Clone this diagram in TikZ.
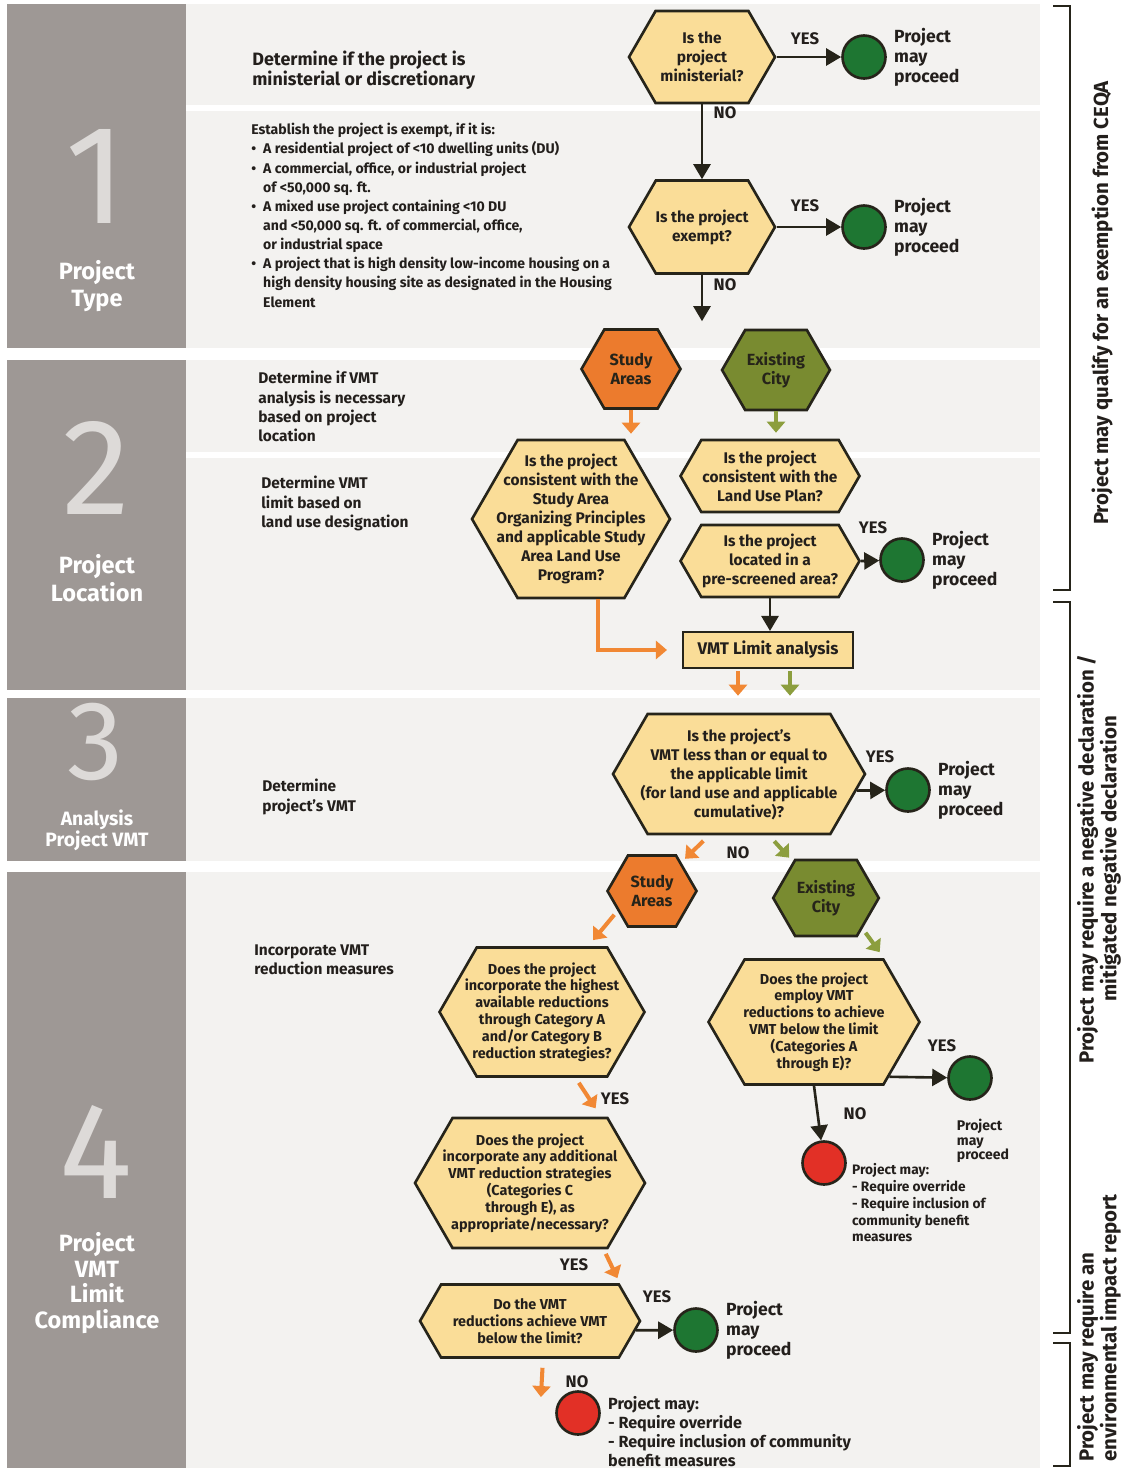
\documentclass[tikz,border=0pt]{standalone}
\usepackage{fontspec}
\setmainfont{Fira Sans}
\definecolor{BarGrey}{RGB}{158,152,149}
\definecolor{NumGrey}{RGB}{221,218,216}
\definecolor{PanelGrey}{RGB}{243,242,240}
\definecolor{HexFill}{RGB}{250,221,152}
\definecolor{HexLine}{RGB}{38,36,26}
\definecolor{InkDark}{RGB}{35,31,28}
\definecolor{StudyOrange}{RGB}{236,123,45}
\definecolor{ArrowOrange}{RGB}{241,136,52}
\definecolor{CityOlive}{RGB}{121,139,48}
\definecolor{ArrowOlive}{RGB}{140,158,62}
\definecolor{GoGreen}{RGB}{30,118,50}
\definecolor{HaltRed}{RGB}{226,48,38}
\usetikzlibrary{arrows.meta, positioning, shapes.symbols}

\begin{document}
\begin{tikzpicture}[x=0.02cm, y=-0.02cm, every node/.style={font=\bfseries, text=InkDark},
    bar/.style={fill=BarGrey},
    panel/.style={fill=PanelGrey},
    bignum/.style={font=\fontsize{80}{80}\selectfont, text=NumGrey, inner sep=0pt},
    barlabel/.style={font=\bfseries\fontsize{13.4}{15.8}\selectfont, text=white, align=center},
    quest/.style={shape=signal, signal to=west and east, signal pointer angle=120, draw=HexLine, line width=1.5pt, fill=HexFill, inner sep=1pt},
    qtext/.style={align=center, inner sep=0pt, font=\bfseries\fontsize{8.8}{10.8}\selectfont},
    smalltext/.style={qtext, font=\bfseries\fontsize{8.2}{9.6}\selectfont},
    area/.style={quest, align=center, text=HexLine, font=\bfseries\fontsize{9.2}{10.8}\selectfont},
    limitbox/.style={draw=HexLine, line width=1.2pt, fill=HexFill, font=\bfseries\fontsize{9.6}{10}\selectfont},
    proceed/.style={circle, draw=HexLine, line width=1.5pt, fill=GoGreen, minimum size=0.86cm, inner sep=0pt},
    halt/.style={proceed, fill=HaltRed},
    answer/.style={font=\bfseries\fontsize{9.5}{10}\selectfont},
    outcome/.style={align=left, inner sep=0pt, font=\bfseries\fontsize{10}{11.3}\selectfont},
    note/.style={align=left, inner sep=0pt, font=\bfseries\fontsize{7.8}{9.6}\selectfont},
    task/.style={anchor=north west, align=left, inner sep=0pt, font=\bfseries\fontsize{8.8}{11}\selectfont},
    flow/.style={draw=HexLine, line width=1.5pt, -{Triangle[length=0.3cm, width=0.34cm]}},
    oflow/.style={draw=ArrowOrange, line width=2.3pt, -{Triangle[length=0.22cm, width=0.36cm]}},
    gflow/.style={oflow, draw=ArrowOlive},
    brk/.style={draw=HexLine, line width=1.6pt},
    side/.style={rotate=90, inner sep=0pt, font=\bfseries\fontsize{11.6}{9.9}\selectfont}]

    \fill[white] (0,0) rectangle (1125,1468);
    \useasboundingbox (0,0) rectangle (1125,1468);
    \fill[panel] (186,4) rectangle (1040,105);
    \fill[panel] (186,111) rectangle (1040,348);
    \fill[panel] (186,360) rectangle (1040,452);
    \fill[panel] (186,458) rectangle (1040,690);
    \fill[panel] (186,698) rectangle (1040,861);
    \fill[panel] (186,872) rectangle (1040,1468);
    \fill[bar] (7,4) rectangle (186,348);
    \fill[bar] (7,360) rectangle (186,690);
    \fill[bar] (7,698) rectangle (186,861);
    \fill[bar] (7,872) rectangle (186,1468);

    \node[bignum] (num1) at (96,176) {1};
    \node[barlabel] (typelbl) at (97,286) {Project\\Type};
    \node[bignum, font=\fontsize{78}{78}\selectfont] (num2) at (96,468) {2};
    \node[barlabel] (loclbl) at (97,578) {Project\\Location};
    \node[bignum, font=\fontsize{64}{64}\selectfont] (num3) at (96,742) {3};
    \node[barlabel, font=\bfseries\fontsize{11}{12}\selectfont] (anlbl) at (97,830) {Analysis\\Project VMT};
    \node[bignum, font=\fontsize{78}{78}\selectfont] (num4) at (96,1152) {4};
    \node[barlabel, font=\bfseries\fontsize{13.4}{14.7}\selectfont] (complbl) at (97,1283) {Project\\VMT\\Limit\\Compliance};

    \node[task, font=\bfseries\fontsize{10.2}{11.3}\selectfont] (task1) at (252,51) {Determine if the project is\\ministerial or discretionary};
    \node[task, font=\bfseries\fontsize{8}{10.9}\selectfont] (exemptlist) at (251,123) {Establish the project is exempt, if it is:\\
        \textbullet\enspace A residential project of <10 dwelling units (DU)\\
        \textbullet\enspace A commercial, office, or industrial project\\
        \phantom{\textbullet\enspace}of <50,000 sq. ft.\\
        \textbullet\enspace A mixed use project containing <10 DU\\
        \phantom{\textbullet\enspace}and <50,000 sq. ft. of commercial, office,\\
        \phantom{\textbullet\enspace}or industrial space\\
        \textbullet\enspace A project that is high density low-income housing on a\\
        \phantom{\textbullet\enspace}high density housing site as designated in the Housing\\
        \phantom{\textbullet\enspace}Element};
    \node[task] (task2) at (258,371) {Determine if VMT\\analysis is necessary\\based on project\\location};
    \node[task] (task3) at (261,476) {Determine VMT\\limit based on\\land use designation};
    \node[task] (task4) at (262,779) {Determine\\project's VMT};
    \node[task] (task5) at (254,944) {Incorporate VMT\\reduction measures};

    \node[quest, minimum width=2.92cm, minimum height=1.84cm] (minis) at (702,57) {};
    \node[qtext] (ministxt) at (minis) {Is the\\project\\ministerial?};
    \node[proceed] (ok1) at (864,57) {};
    \node[outcome, right=0.14cm of ok1] (ok1txt) {Project\\may\\proceed};
    \draw[flow] (minis.east) -- (ok1);
    \node[answer] (yes1) at (805,39) {YES};
    \node[quest, minimum width=2.92cm, minimum height=1.86cm] (exempt) at (702,227) {};
    \node[qtext] (exempttxt) at (exempt) {Is the project\\exempt?};
    \draw[flow] (minis.south) -- (exempt.north);
    \node[answer] (no1) at (725,113) {NO};
    \node[proceed] (ok2) at (864,227) {};
    \node[outcome, right=0.14cm of ok2] (ok2txt) {Project\\may\\proceed};
    \draw[flow] (exempt.east) -- (ok2);
    \node[answer] (yes2) at (805,206) {YES};
    \node[answer] (no2) at (725,285) {NO};

    \node[area, fill=StudyOrange, minimum width=1.98cm, minimum height=1.58cm] (studyA) at (631,369) {Study\\Areas};
    \node[area, fill=CityOlive, minimum width=1.98cm, minimum height=1.6cm] (cityA) at (776,370) {Existing\\City};
    \draw[flow, shorten >=0.14cm] (exempt.south) -- (exempt.south |- studyA.north);
    \node[quest, minimum width=3.96cm, minimum height=3.16cm] (studyQ) at (571,519) {};
    \node[qtext] (studyQtxt) at (studyQ) {Is the project\\consistent with the\\Study Area\\Organizing Principles\\and applicable Study\\Area Land Use\\Program?};
    \node[quest, minimum width=3.58cm, minimum height=1.44cm] (planQ) at (770,476) {};
    \node[qtext] (planQtxt) at (planQ) {Is the project\\consistent with the\\Land Use Plan?};
    \node[quest, minimum width=3.58cm, minimum height=1.44cm] (screenQ) at (770,561) {};
    \node[qtext] (screenQtxt) at (screenQ) {Is the project\\located in a\\pre-screened area?};
    \draw[oflow, shorten >=0.1cm] (studyA.south) -- (studyA.south |- studyQ.north);
    \draw[gflow, shorten >=0.12cm] (cityA.south) -- (cityA.south |- planQ.north);
    \node[proceed] (ok3) at (902,560) {};
    \node[outcome, right=0.14cm of ok3] (ok3txt) {Project\\may\\proceed};
    \draw[flow] (screenQ.east) -- (ok3);
    \node[answer] (yes3) at (873,528) {YES};
    \node[limitbox, minimum width=3.4cm, minimum height=0.72cm] (vmtbox) at (768,650) {VMT Limit analysis};
    \draw[flow] (screenQ.south) -- (screenQ.south |- vmtbox.north);
    \draw[oflow, shorten >=0.3cm] ([xshift=0.54cm]studyQ.south) |- (vmtbox.west);

    \node[quest, minimum width=5.04cm, minimum height=2.4cm] (limitQ) at (739,774) {};
    \node[qtext] (limitQtxt) at (limitQ) {Is the project's\\VMT less than or equal to\\the applicable limit\\(for land use and applicable\\cumulative)?};
    \draw[oflow, shorten <=0.04cm, shorten >=0.34cm] ([xshift=-0.6cm]vmtbox.south) -- ([xshift=-0.6cm]vmtbox.south |- limitQ.north);
    \draw[gflow, shorten <=0.04cm, shorten >=0.34cm] ([xshift=0.44cm]vmtbox.south) -- ([xshift=0.44cm]vmtbox.south |- limitQ.north);
    \node[proceed] (ok4) at (908,790) {};
    \node[outcome, right=0.14cm of ok4] (ok4txt) {Project\\may\\proceed};
    \draw[flow] (limitQ.-8) -- (ok4);
    \node[answer] (yes4) at (880,757) {YES};

    \node[area, fill=StudyOrange, minimum width=1.78cm, minimum height=1.42cm] (studyB) at (652,891) {Study\\Areas};
    \node[area, fill=CityOlive, minimum width=1.88cm, minimum height=1.52cm] (cityB) at (826,898) {Existing\\City};
    \draw[oflow, shorten <=0.16cm, shorten >=0.1cm] (limitQ.-116) -- (studyB);
    \draw[gflow, shorten <=0.16cm, shorten >=0.1cm] (limitQ.-64) -- (cityB);
    \node[answer] (no3) at (738,853) {NO};

    \node[quest, minimum width=4.1cm, minimum height=2.58cm] (highQ) at (542,1012) {};
    \node[smalltext] (highQtxt) at (highQ) {Does the project\\incorporate the highest\\available reductions\\through Category A\\and/or Category B\\reduction strategies?};
    \node[quest, minimum width=4.22cm, minimum height=2.5cm] (employQ) at (814,1022) {};
    \node[smalltext] (employQtxt) at (employQ) {Does the project\\employ VMT\\reductions to achieve\\VMT below the limit\\(Categories A\\through E)?};
    \draw[oflow, shorten <=0.1cm, shorten >=0.16cm] (studyB.-150) -- (highQ.55);
    \draw[gflow, shorten <=0.1cm, shorten >=0.16cm] (cityB.-40) -- (employQ.42);

    \node[proceed] (ok5) at (970,1078) {};
    \node[outcome, font=\bfseries\fontsize{8}{8.3}\selectfont, below=0.36cm of ok5, xshift=0.26cm] (ok5txt) {Project\\may\\proceed};
    \draw[flow] (employQ.-36) -- (ok5);
    \node[answer] (yes5) at (942,1046) {YES};
    \node[halt] (halt1) at (824,1163) {};
    \draw[flow] (employQ.south) -- (halt1);
    \node[answer] (no4) at (855,1114) {NO};
    \node[note, anchor=north west] (halt1txt) at ([xshift=0.1cm]halt1.east) {Project may:\\- Require override\\- Require inclusion of\\community benefit\\measures};

    \node[quest, minimum width=4.6cm, minimum height=2.6cm] (addQ) at (530,1183) {};
    \node[smalltext] (addQtxt) at (addQ) {Does the project\\incorporate any additional\\VMT reduction strategies\\(Categories C\\through E), as\\appropriate/necessary?};
    \draw[oflow, shorten <=0.12cm, shorten >=0.2cm] (highQ.-63) -- (addQ.43);
    \node[answer] (yes6) at (615,1099) {YES};
    \node[quest, minimum width=4.4cm, minimum height=1.46cm] (achieveQ) at (530,1321) {};
    \node[smalltext] (achieveQtxt) at (achieveQ) {Do the VMT\\reductions achieve VMT\\below the limit?};
    \draw[oflow, shorten <=0.1cm, shorten >=0.14cm] (addQ.-42) -- (achieveQ.22);
    \node[answer] (yes7) at (574,1265) {YES};
    \node[proceed] (ok6) at (696,1330) {};
    \node[outcome, right=0.14cm of ok6] (ok6txt) {Project\\may\\proceed};
    \draw[flow] (achieveQ.-5) -- (ok6);
    \node[answer] (yes8) at (657,1297) {YES};
    \node[halt] (halt2) at (578,1413) {};
    \draw[oflow, shorten <=0.18cm, shorten >=0.32cm] ([xshift=0.26cm]achieveQ.south) -- ([xshift=0.2cm]achieveQ.south |- halt2);
    \node[answer] (no5) at (577,1382) {NO};
    \node[note, anchor=north west, font=\bfseries\fontsize{9.2}{10.8}\selectfont] (halt2txt) at ([xshift=0.14cm, yshift=0.34cm]halt2.east) {Project may:\\- Require override\\- Require inclusion of community\\benefit measures};

    \draw[brk] (1053,6) -- (1070,6) -- (1070,590) -- (1053,590);
    \draw[brk] (1053,602) -- (1070,602) -- (1070,1333) -- (1053,1333);
    \draw[brk] (1053,1343) -- (1070,1343) -- (1070,1466) -- (1053,1466);
    \node[side] (ceqa) at (1102,303) {Project may qualify for an exemption from CEQA};
    \node[side, align=center] (negdec) at (1099,859) {Project may require a negative declaration /\\mitigated negative declaration};
    \node[side, align=left, anchor=west] (eir) at (1099,1462) {Project may require an\\environmental impact report};
\end{tikzpicture}
\end{document}
